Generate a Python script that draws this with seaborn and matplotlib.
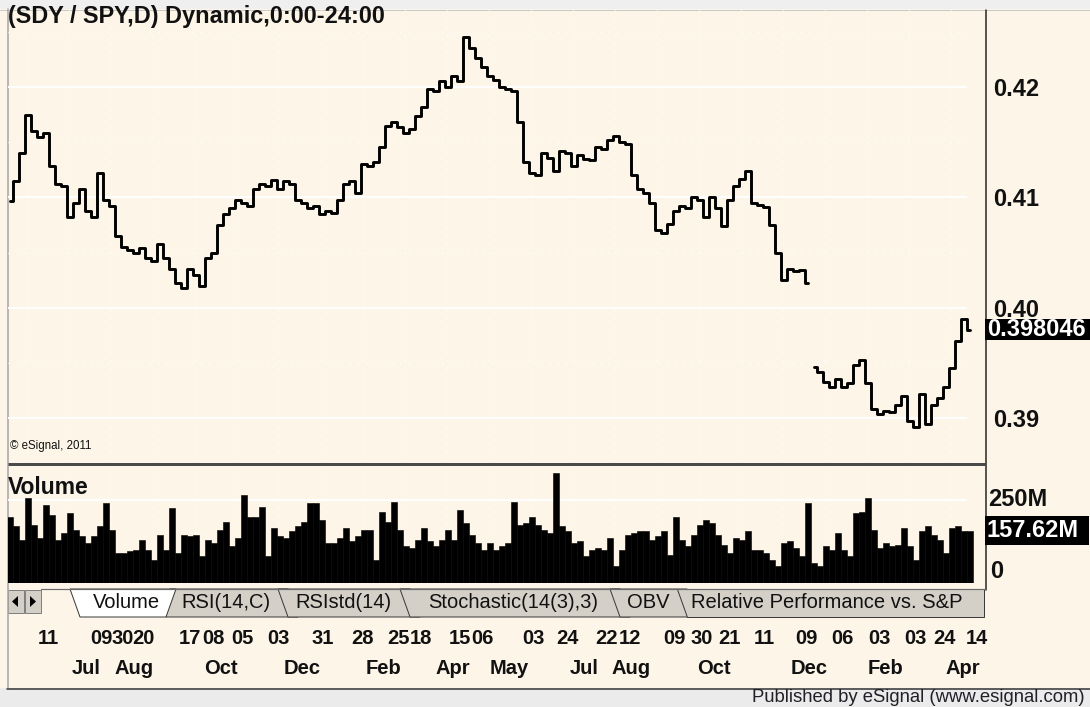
import numpy as np
import matplotlib
matplotlib.use("Agg")
import matplotlib.pyplot as plt
import matplotlib.transforms as mtransforms
from matplotlib.patches import Polygon, Rectangle
import seaborn as sns

# ---------------- data ----------------
title = "(SDY / SPY,D) Dynamic,0:00-24:00"

# SDY/SPY ratio, daily (sampled), before the December adjustment gap
ratio_before = [
    0.4097, 0.4115, 0.4140, 0.4175, 0.4160, 0.4155, 0.4158, 0.4128, 0.4112, 0.4110,
    0.4082, 0.4095, 0.4108, 0.4088, 0.4082, 0.4122, 0.4098, 0.4092, 0.4065, 0.4055,
    0.4052, 0.4050, 0.4054, 0.4045, 0.4042, 0.4058, 0.4045, 0.4035, 0.4022, 0.4018,
    0.4035, 0.4030, 0.4020, 0.4045, 0.4050, 0.4075, 0.4085, 0.4090, 0.4098, 0.4095,
    0.4092, 0.4108, 0.4112, 0.4110, 0.4116, 0.4108, 0.4115, 0.4112, 0.4098, 0.4095,
    0.4090, 0.4092, 0.4085, 0.4088, 0.4086, 0.4098, 0.4112, 0.4115, 0.4104, 0.4130,
    0.4128, 0.4132, 0.4146, 0.4165, 0.4168, 0.4164, 0.4158, 0.4162, 0.4174, 0.4182,
    0.4198, 0.4196, 0.4205, 0.4200, 0.4210, 0.4205, 0.4245, 0.4235, 0.4226, 0.4218,
    0.4210, 0.4206, 0.4200, 0.4198, 0.4196, 0.4168, 0.4132, 0.4122, 0.4120, 0.4140,
    0.4136, 0.4124, 0.4142, 0.4140, 0.4128, 0.4138, 0.4135, 0.4134, 0.4146, 0.4144,
    0.4152, 0.4156, 0.4150, 0.4148, 0.4120, 0.4108, 0.4104, 0.4095, 0.4070, 0.4068,
    0.4076, 0.4088, 0.4092, 0.4090, 0.4100, 0.4098, 0.4082, 0.4100, 0.4090, 0.4074,
    0.4098, 0.4110, 0.4117, 0.4124, 0.4095, 0.4093, 0.4091, 0.4075, 0.4050, 0.4025,
    0.4035, 0.4033, 0.4034, 0.4022,
]
# after the gap
ratio_after = [
    0.3946, 0.3942, 0.3933, 0.3928, 0.3935, 0.3928, 0.3932, 0.3948, 0.3953, 0.3932,
    0.3908, 0.3904, 0.3906, 0.3905, 0.3912, 0.3920, 0.3897, 0.3892, 0.3922, 0.3895,
    0.3912, 0.3918, 0.3928, 0.3945, 0.3970, 0.3990, 0.3980,
]
last_ratio = 0.398046
last_ratio_label = "0.398046"

# Volume in millions
volume_m = [
    200, 170, 130, 255, 175, 135, 235, 205, 130, 150,
    210, 160, 140, 120, 140, 170, 240, 160, 90, 90,
    95, 100, 130, 100, 70, 145, 100, 225, 90, 145,
    140, 145, 80, 130, 120, 160, 185, 110, 135, 265,
    200, 200, 230, 80, 165, 140, 135, 155, 170, 185,
    240, 240, 190, 120, 120, 135, 165, 125, 140, 160,
    160, 70, 215, 185, 245, 160, 110, 105, 130, 165,
    125, 110, 130, 160, 130, 220, 180, 145, 120, 100,
    120, 100, 110, 120, 245, 175, 180, 200, 175, 160,
    150, 330, 170, 155, 120, 125, 80, 100, 105, 100,
    135, 50, 100, 145, 150, 155, 155, 130, 140, 155,
    85, 200, 130, 110, 145, 175, 190, 180, 145, 115,
    90, 135, 130, 155, 100, 100, 90, 70, 50, 120,
    125, 105, 80, 240, 60, 50, 110, 100, 150, 100,
    80, 210, 215, 255, 160, 105, 120, 110, 115, 165,
    110, 70, 155, 170, 145, 130, 90, 165, 170, 155,
    157.62,
]
last_volume_label = "157.62M"

price_ticks = [0.39, 0.40, 0.41, 0.42]
price_tick_labels = ["0.39", "0.40", "0.41", "0.42"]
volume_ticks = [0, 250]
volume_tick_labels = ["0", "250M"]

day_labels = ["11", "09", "30", "20", "17", "08", "05", "03", "31", "28", "25", "18", "15", "06",
              "03", "24", "22", "12", "09", "30", "21", "11", "09", "06", "03", "03", "24", "14"]
day_pos = [6.5, 15.3, 18.8, 22.3, 30.0, 34.0, 38.7, 44.8, 52.2, 58.8, 64.7, 68.5, 75.0, 78.8,
           87.2, 93.0, 99.5, 103.3, 110.7, 115.3, 120.0, 125.8, 132.8, 138.7, 145.0, 151.0, 155.7, 161.2]
month_labels = ["Jul", "Aug", "Oct", "Dec", "Feb", "Apr", "May", "Jul", "Aug", "Oct", "Dec", "Feb", "Apr"]
month_pos = [12.7, 20.7, 35.2, 48.7, 62.2, 73.8, 83.2, 95.7, 103.5, 117.3, 133.3, 146.0, 158.8]

tab_labels = ["Volume", "RSI(14,C)", "RSIstd(14)", "Stochastic(14(3),3)", "OBV",
              "Relative Performance vs. S&P"]
footer = "Published by eSignal (www.esignal.com)"
copyright_txt = "\u00a9 eSignal, 2011"

# ---------------- style ----------------
sns.set_style("white")
plt.rcParams['font.family'] = ['Liberation Sans', 'DejaVu Sans']

W, H = 1090, 707
cream = '#FCF5E8'
fig = plt.figure(figsize=(W / 100, H / 100), dpi=100)
fig.patch.set_facecolor(cream)


def rect(x0, y0, x1, y1):
    return [x0 / W, 1 - y1 / H, (x1 - x0) / W, (y1 - y0) / H]


PX = 0.72  # points per pixel at dpi 100

# background chrome axes in pixel coords (y downwards)
bg = fig.add_axes([0, 0, 1, 1], zorder=0)
bg.set_xlim(0, W)
bg.set_ylim(H, 0)
bg.axis('off')

bg.add_patch(Rectangle((0, 0), W, 9, fc='#EFEFEF', ec='none'))
bg.plot([0, W], [9.5, 9.5], color='#C8C8C8', lw=1 * PX)
bg.plot([7.5, 7.5], [9, 688], color='#A8A8A8', lw=1.6 * PX)
# separator price / volume
bg.plot([8, 985], [463.5, 463.5], color='#4A4A4A', lw=3 * PX, solid_capstyle='butt')
# right axis line
bg.plot([985.5, 985.5], [10, 590], color='#303030', lw=1.6 * PX)
# tab strip top line
bg.plot([41, 985], [588.5, 588.5], color='#6A6A6A', lw=1.2 * PX)
# footer
bg.add_patch(Rectangle((0, 688), W, H - 688, fc='#EBEBEB', ec='none'))
bg.plot([7, W], [688.5, 688.5], color='#3C3C3C', lw=1.6 * PX)
bg.text(1085, 698, footer, ha='right', va='center', fontsize=13.3, color='#202028')

# buttons
for x0 in (8, 25):
    bg.add_patch(Rectangle((x0, 590), 16, 23, fc='#D4D0C8', ec='#808080', lw=1 * PX))
bg.add_patch(Polygon([(12, 601.5), (18, 596), (18, 607)], closed=True, fc='black', ec='none'))
bg.add_patch(Polygon([(30, 596), (30, 607), (36, 601.5)], closed=True, fc='black', ec='none'))

# tabs (inactive first, active last)
tab_polys = [
    [(170, 589), (288, 589), (298, 617), (166, 617)],
    [(278, 589), (410, 589), (420, 617), (288, 617)],
    [(400, 589), (620, 589), (630, 617), (410, 617)],
    [(610, 589), (687, 589), (697, 617), (620, 617)],
    [(677, 589), (984, 589), (984, 617), (687, 617)],
]
tab_text_x = [226, 343, 513, 648, 691]
for k, (poly, tx) in enumerate(zip(tab_polys, tab_text_x)):
    p = Polygon(poly, closed=True, fc='#D4D0C8', ec='#3A3A3A', lw=1 * PX)
    bg.add_patch(p)
    ha = 'left' if k == 4 else 'center'
    t = bg.text(tx, 603, tab_labels[k + 1], ha=ha, va='center', fontsize=14.5, color='#111111')
    if k == 4:
        t.set_clip_path(p)
act = Polygon([(70, 589), (176, 589), (166, 617), (80, 617)], closed=True,
              fc='white', ec='#3A3A3A', lw=1 * PX)
bg.add_patch(act)
bg.text(126, 603, tab_labels[0], ha='center', va='center', fontsize=14.5, color='#111111')

# ---------------- price panel ----------------
XL = (-0.3, 162.7)
idx_before = np.arange(len(ratio_before))
idx_after = np.arange(len(ratio_before), len(ratio_before) + len(ratio_after))

ax = fig.add_axes(rect(8, 10, 986, 461), zorder=2)
ax.set_facecolor('none')
sns.lineplot(x=idx_before, y=ratio_before, ax=ax, color='black', lw=2.1,
             drawstyle='steps-mid', legend=False, zorder=3)
sns.lineplot(x=idx_after, y=ratio_after, ax=ax, color='black', lw=2.1,
             drawstyle='steps-mid', legend=False, zorder=3)
ax.set_xlim(*XL)
ax.set_ylim(0.386103, 0.42698)
grid_end = 159.5
ax.hlines(price_ticks, XL[0], grid_end, colors='white', lw=1.4, zorder=1)
ax.hlines([0.395, 0.405, 0.415, 0.425], XL[0], grid_end, colors='white', lw=1.0,
          linestyles=(0, (1, 5)), zorder=1)
ax.vlines(np.arange(2.8, 160, 7), 0.386103, 0.42698, colors='white', lw=1.0,
          linestyles=(0, (1, 5)), zorder=1)
ax.yaxis.tick_right()
ax.set_yticks(price_ticks)
ax.set_yticklabels(price_tick_labels, fontsize=17, fontweight='bold', color='#111111')
ax.tick_params(axis='y', length=0, pad=5)
ax.set_xticks([])
ax.set_xlabel('')
ax.set_ylabel('')
for s in ax.spines.values():
    s.set_visible(False)

fig.text(8 / W, 1 - 17 / H, title, ha='left', va='center', fontsize=16.9,
         fontweight='bold', color='#111111')
fig.text(10 / W, 1 - 446 / H, copyright_txt, ha='left', va='center', fontsize=8.3,
         color='#111111')

# ---------------- volume panel ----------------
idx_all = np.arange(len(volume_m))
ax2 = fig.add_axes(rect(8, 466, 986, 583), zorder=2)
ax2.set_facecolor('none')
sns.barplot(x=idx_all, y=volume_m, native_scale=True, color='black', width=1.0,
            saturation=1, errorbar=None, ax=ax2, edgecolor='black', linewidth=0.4, zorder=3)
ax2.set_xlim(*XL)
ax2.set_ylim(0, 352)
ax2.hlines(250, XL[0], grid_end, colors='white', lw=1.4, zorder=1)
ax2.vlines(np.arange(2.8, 160, 7), 0, 352, colors='white', lw=1.0,
           linestyles=(0, (1, 5)), zorder=1)
ax2.set_xticks([])
ax2.set_yticks([])
ax2.set_xlabel('')
ax2.set_ylabel('')
for s in ax2.spines.values():
    s.set_visible(False)
tr2 = mtransforms.blended_transform_factory(ax2.transAxes, ax2.transData)
ax2.text(1.002, volume_ticks[1], volume_tick_labels[1], transform=tr2, ha='left', va='center',
         fontsize=17, fontweight='bold', color='#111111', clip_on=False)
ax2.text(1.004, volume_ticks[0], volume_tick_labels[0], transform=tr2, ha='left', va='bottom',
         fontsize=17, fontweight='bold', color='#111111', clip_on=False)
fig.text(8 / W, 1 - 487 / H, "Volume", ha='left', va='center', fontsize=16.5,
         fontweight='bold', color='#111111')

# ---------------- value boxes (positions from data) ----------------
fig.canvas.draw()
y_last = H - ax.transData.transform((0, last_ratio))[1]
bg.add_patch(Rectangle((985, y_last - 10.5), 105, 21, fc='black', ec='none', zorder=5))
bg.text(987, y_last, last_ratio_label, ha='left', va='center', fontsize=17,
        fontweight='bold', color='white', zorder=6)
y_lv = H - ax2.transData.transform((0, volume_m[-1]))[1]
bg.add_patch(Rectangle((985, y_lv - 14.5), 104, 29, fc='black', ec='none', zorder=5))
bg.text(987, y_lv, last_volume_label, ha='left', va='center', fontsize=17,
        fontweight='bold', color='white', zorder=6)

# ---------------- date strip ----------------
ax3 = fig.add_axes(rect(8, 619, 986, 688), zorder=2)
ax3.set_xlim(*XL)
ax3.set_ylim(688, 619)
ax3.axis('off')
for p, lab in zip(day_pos, day_labels):
    ax3.text(p, 639, lab, ha='center', va='center', fontsize=14.5, fontweight='bold',
             color='#111111')
for p, lab in zip(month_pos, month_labels):
    ax3.text(p, 669, lab, ha='center', va='center', fontsize=14.5, fontweight='bold',
             color='#111111')

fig.savefig('out.png', dpi=100, facecolor=fig.get_facecolor())
